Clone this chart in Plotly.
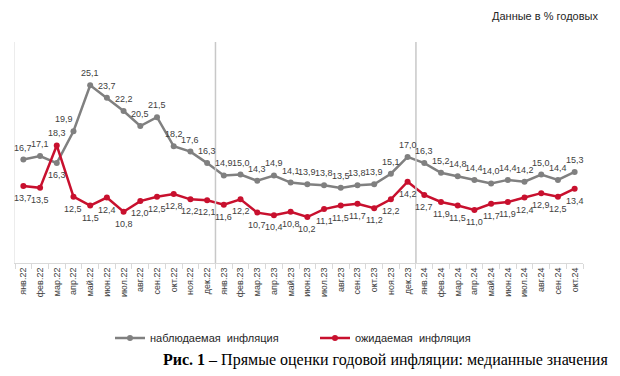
import plotly.graph_objects as go

months = ["янв", "фев", "мар", "апр", "май", "июн", "июл", "авг", "сен", "окт", "ноя", "дек"]
categories = [f"{m}.22" for m in months] + [f"{m}.23" for m in months] + [f"{m}.24" for m in months[:10]]

observed = [16.7, 17.1, 16.3, 19.9, 25.1, 23.7, 22.2, 20.5, 21.5, 18.2, 17.6, 16.3,
            14.9, 15.0, 14.3, 14.9, 14.1, 13.9, 13.8, 13.5, 13.8, 13.9, 15.1, 17.0,
            16.3, 15.2, 14.8, 14.4, 14.0, 14.4, 14.2, 15.0, 14.4, 15.3]
expected = [13.7, 13.5, 18.3, 12.5, 11.5, 12.4, 10.8, 12.0, 12.5, 12.8, 12.2, 12.1,
            11.6, 12.2, 10.7, 10.4, 10.8, 10.2, 11.1, 11.5, 11.7, 11.2, 12.2, 14.2,
            12.7, 11.9, 11.5, 11.0, 11.7, 11.9, 12.4, 12.9, 12.5, 13.4]

GRAY = "#808080"
RED = "#c8102e"
LBL = dict(family="Liberation Sans", size=9, color="#404040")
fmt = lambda v: f"{v:.1f}".replace(".", ",")

fig = go.Figure()
fig.add_trace(go.Scatter(
    x=categories, y=observed, mode="lines+markers",
    name="наблюдаемая\u00a0\u00a0инфляция",
    line=dict(color=GRAY, width=2.5), marker=dict(color=GRAY, size=6),
    cliponaxis=False,
))
fig.add_trace(go.Scatter(
    x=categories, y=expected, mode="lines+markers",
    name="ожидаемая\u00a0\u00a0инфляция",
    line=dict(color=RED, width=2.5), marker=dict(color=RED, size=6),
    cliponaxis=False,
))

# data labels: observed above (except where the red line is above), expected below
for i, (c, v) in enumerate(zip(categories, observed)):
    above = observed[i] >= expected[i]
    xs = -9 if i == 3 else 0
    fig.add_annotation(x=c, y=v, text=fmt(v), showarrow=False, font=LBL,
                       yshift=12 if above else -12, xshift=xs)
for i, (c, v) in enumerate(zip(categories, expected)):
    above = expected[i] > observed[i]
    fig.add_annotation(x=c, y=v, text=fmt(v), showarrow=False, font=LBL,
                       yshift=12 if above else -12)

for xpos in (11.5, 23.5):
    fig.add_shape(type="line", xref="x", yref="paper", x0=xpos, x1=xpos, y0=0, y1=1,
                  line=dict(color="#c8c8c8", width=1.5))

fig.add_annotation(text="Данные в % годовых", xref="paper", yref="paper",
                   x=(600 - 15) / 568, y=(263 - 16) / 221, xanchor="right", yanchor="middle",
                   showarrow=False, font=dict(family="Liberation Sans", size=11, color="#262626"))
fig.add_annotation(text="<b>Рис. 1</b> – Прямые оценки годовой инфляции: медианные значения",
                   xref="paper", yref="paper", x=(610 - 15) / 568, y=(263 - 360) / 221,
                   xanchor="right", yanchor="middle",
                   showarrow=False, font=dict(family="Liberation Serif", size=16, color="#000000"))

fig.update_layout(
    width=620, height=376,
    margin=dict(l=15, r=37, t=42, b=113, autoexpand=False),
    paper_bgcolor="white", plot_bgcolor="white",
    showlegend=True,
    legend=dict(orientation="h", xref="container", yref="container",
                x=110 / 620, y=1 - 338 / 376, xanchor="left", yanchor="middle",
                font=dict(family="Liberation Sans", size=11, color="#262626"),
                entrywidth=160, entrywidthmode="pixels", itemwidth=30, tracegroupgap=0,
                bgcolor="rgba(0,0,0,0)"),
    xaxis=dict(type="category", categoryorder="array", categoryarray=categories,
               range=[-0.5, len(categories) - 0.5], tickangle=-90, automargin=False,
               tickson="boundaries", ticks="outside", ticklen=5, tickcolor="#d9d9d9",
               showline=True, linecolor="#d9d9d9", linewidth=1, showgrid=False,
               tickfont=dict(family="Liberation Sans", size=9, color="#404040")),
    yaxis=dict(range=[5, 30], showticklabels=False, ticks="", showgrid=False, automargin=False,
               zeroline=False, showline=True, linecolor="#ececec", linewidth=1),
)

fig.write_html("out.html", post_script="document.body.style.margin='0';",
               config={"displayModeBar": False})
